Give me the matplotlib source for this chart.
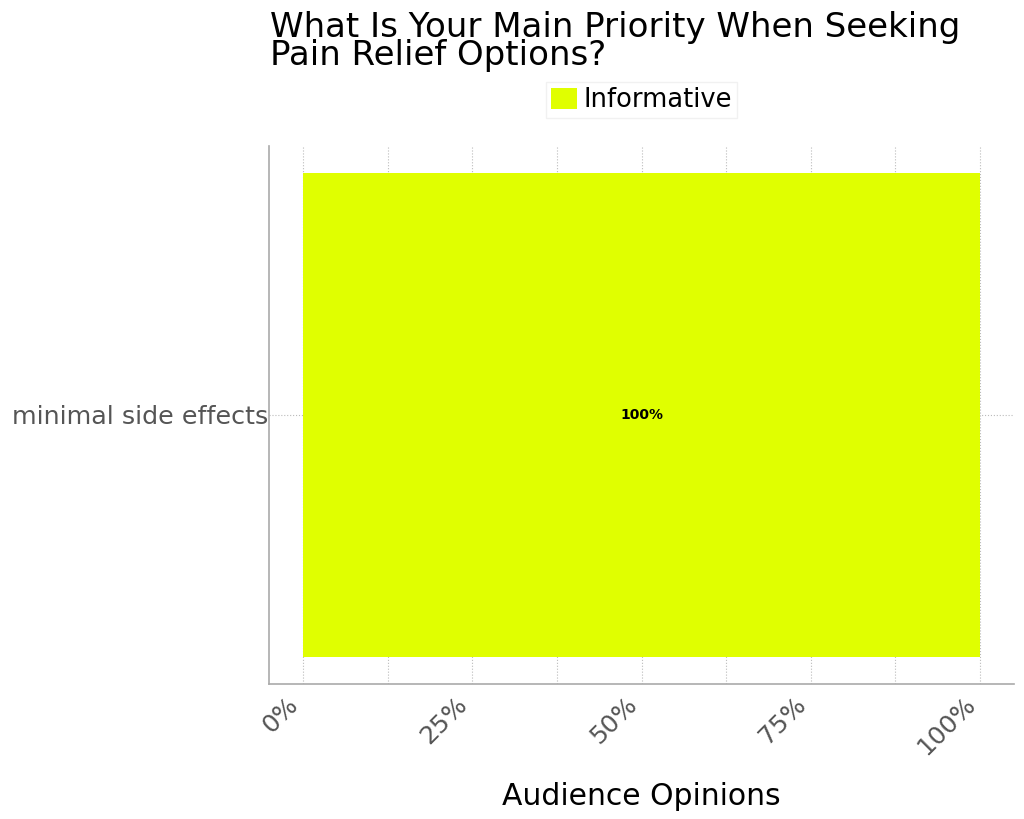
import numpy as np
import matplotlib.pyplot as plt
from matplotlib.ticker import MultipleLocator, FuncFormatter

categorias = ["minimal side effects"]
valores = [100]
serie = "Informative"
color_barra = "#e0ff00"

fig = plt.figure(figsize=(10.24, 8.19), dpi=100)
ax = fig.add_axes([0.263, 0.165, 0.727, 0.657])

y = np.arange(len(categorias))
barras = ax.barh(y, valores, height=0.9, color=color_barra, label=serie, zorder=2)
for b, v in zip(barras, valores):
    ax.text(b.get_x() + b.get_width() / 2, b.get_y() + b.get_height() / 2, f"{v}%",
            ha="center", va="center", fontsize=10, fontweight="bold", color="black", zorder=3)

ax.set_xlim(-5, 105)
ax.set_ylim(-0.5, 0.5)
ax.set_yticks(y)
ax.set_yticklabels(categorias, fontsize=18.3, color="#555555")
ax.xaxis.set_major_locator(MultipleLocator(25))
ax.xaxis.set_minor_locator(MultipleLocator(12.5))
ax.xaxis.set_major_formatter(FuncFormatter(lambda v, p: f"{v:.0f}%"))
plt.setp(ax.get_xticklabels(), rotation=45, ha="right", fontsize=18, color="#555555")
ax.tick_params(axis="x", which="both", length=0, pad=6)
ax.tick_params(axis="y", which="both", length=0, pad=1)

ax.grid(True, which="both", axis="x", linestyle=":", color="#bbbbbb", linewidth=0.8, zorder=0)
ax.grid(True, axis="y", linestyle=":", color="#bbbbbb", linewidth=0.8, zorder=0)
ax.set_axisbelow(True)

for lado in ["top", "right"]:
    ax.spines[lado].set_visible(False)
for lado in ["left", "bottom"]:
    ax.spines[lado].set_color("#aaaaaa")
    ax.spines[lado].set_linewidth(1.2)

ax.set_xlabel("Audience Opinions", fontsize=21.5, labelpad=16)

fig.text(0.264, 0.912, "What Is Your Main Priority When Seeking\nPain Relief Options?",
         fontsize=24.5, ha="left", va="bottom", linespacing=0.82)

ax.legend(loc="lower center", bbox_to_anchor=(0.5, 1.027), fontsize=18.5, frameon=True,
          edgecolor="#eeeeee", handlelength=1.0, handleheight=0.9, handletextpad=0.25,
          borderpad=0.2, fancybox=False)

fig.savefig("out.png", dpi=100)
